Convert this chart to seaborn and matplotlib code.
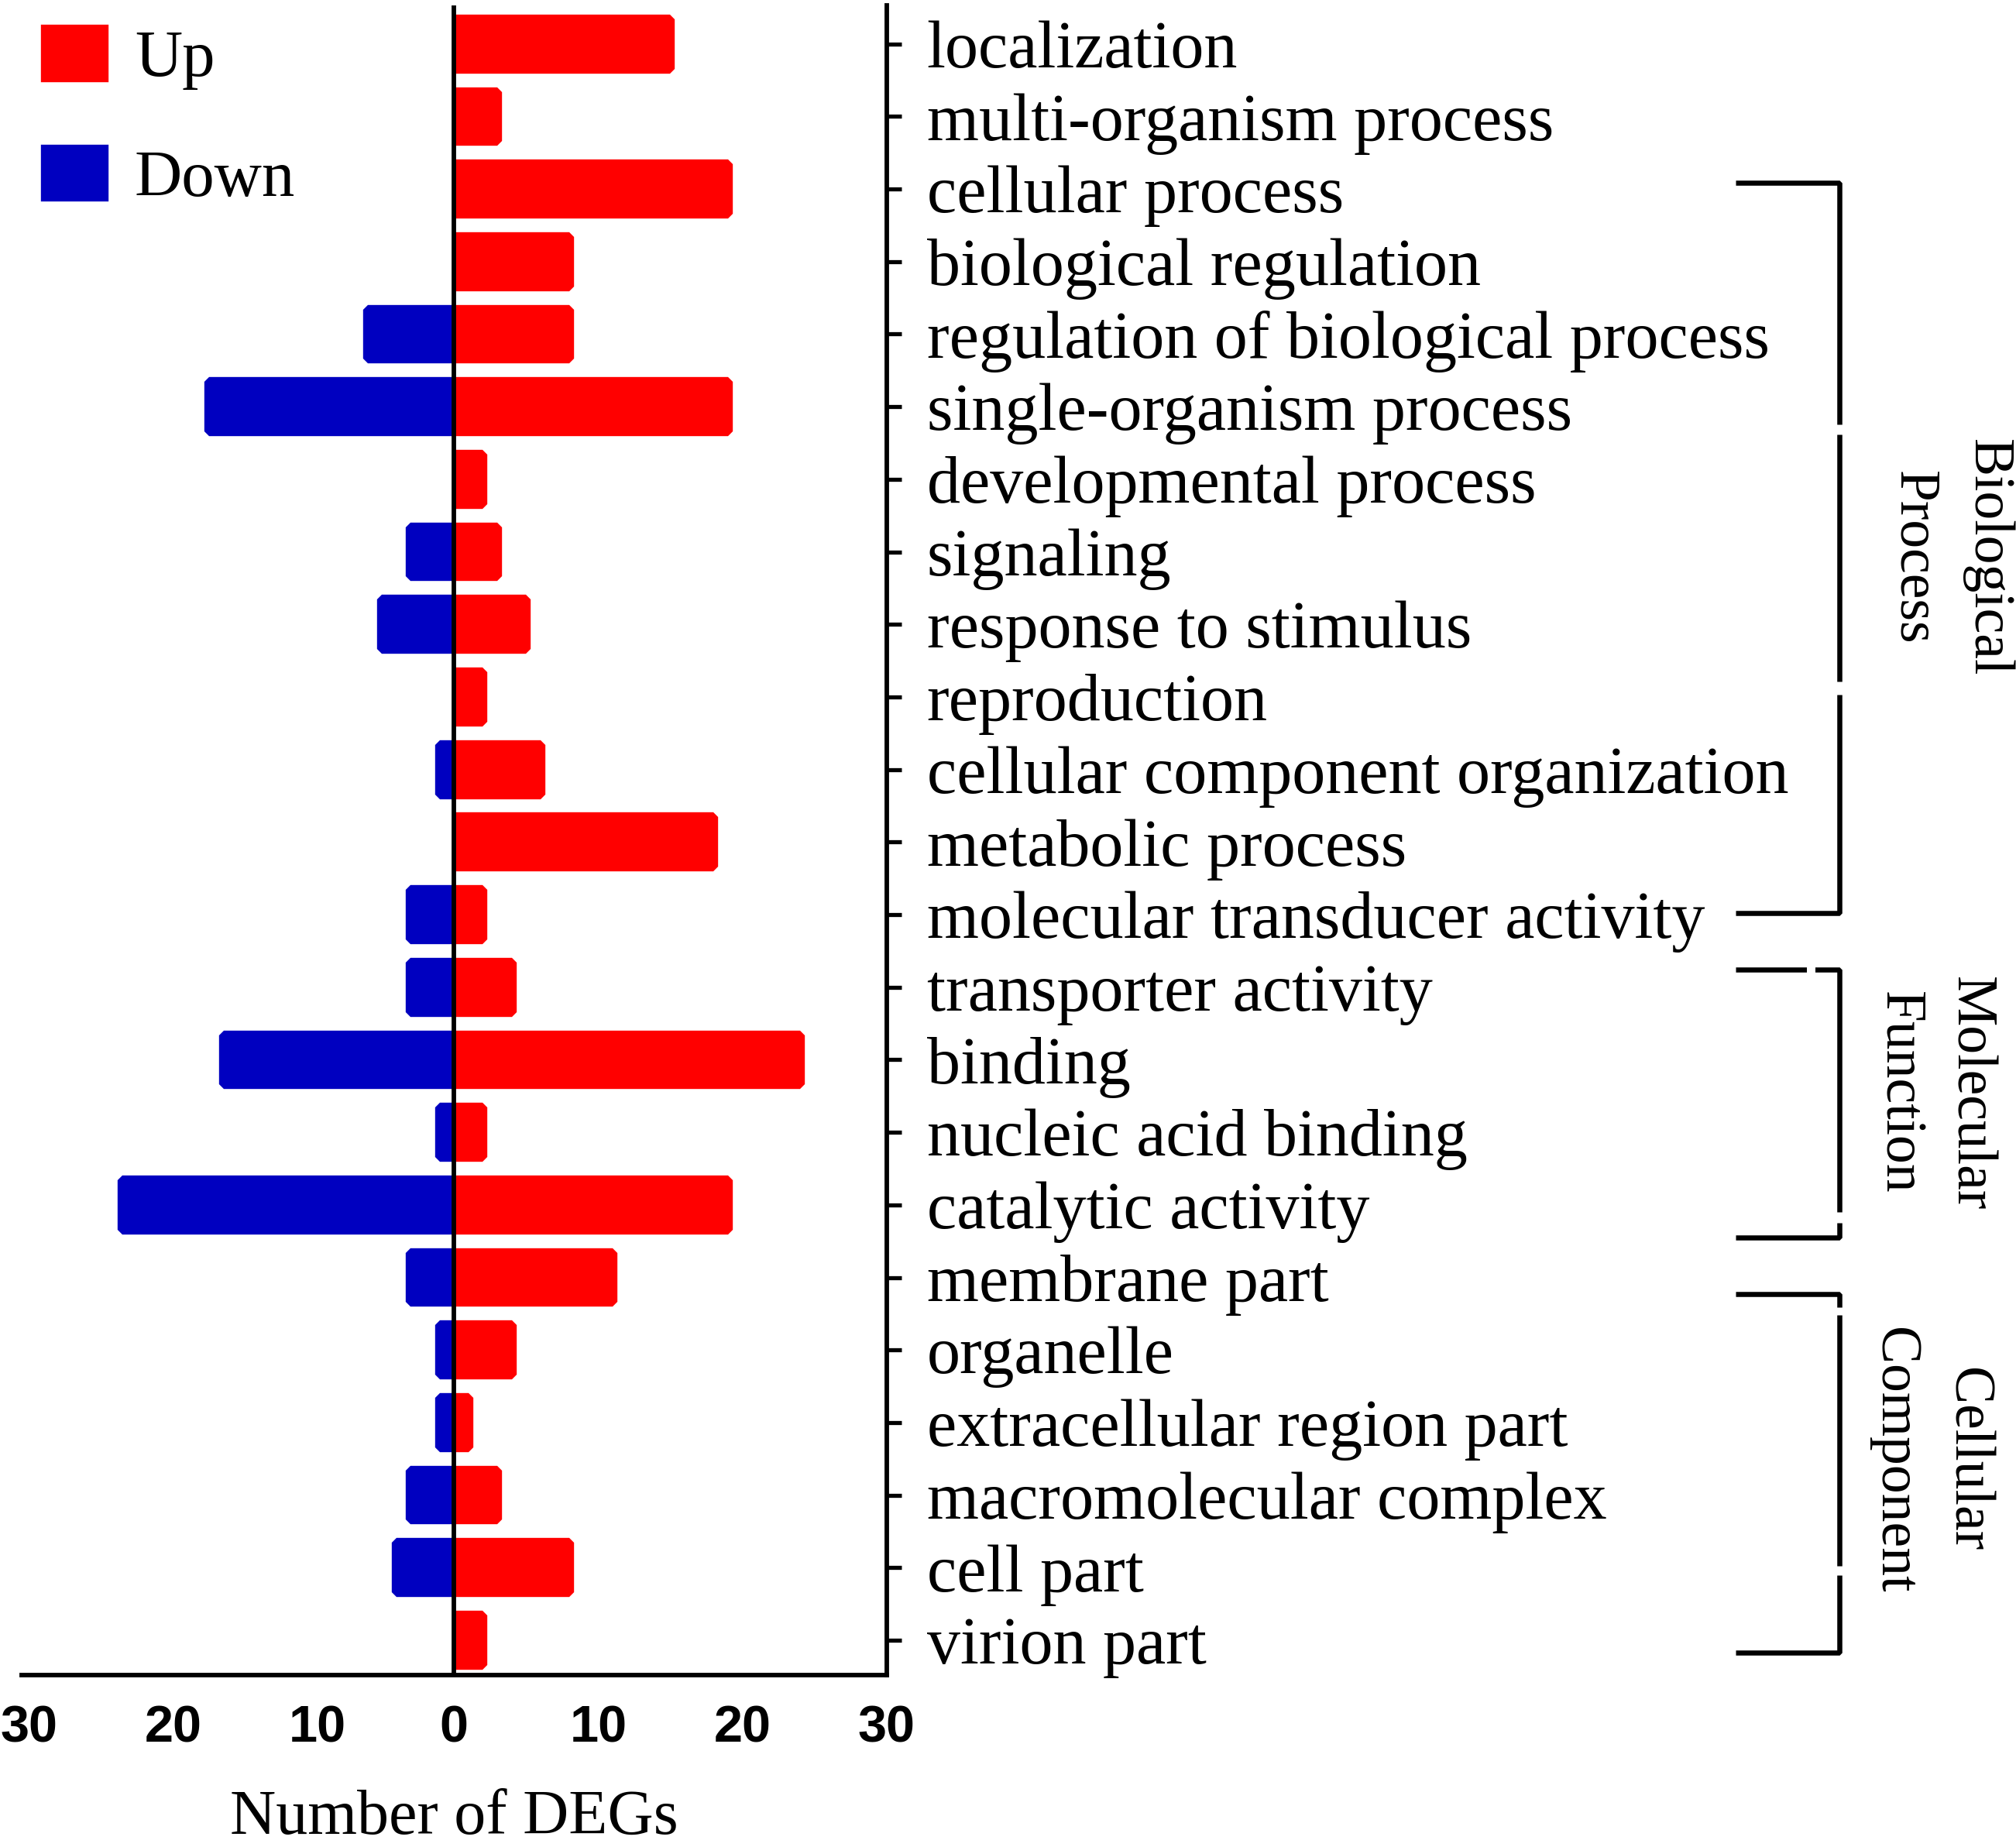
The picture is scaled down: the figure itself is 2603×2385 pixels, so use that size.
import pandas as pd
import matplotlib.pyplot as plt
import matplotlib.transforms as mtransforms
from matplotlib.patches import Patch, Rectangle
import seaborn as sns

# GO terms from top to bottom
terms = ['localization', 'multi-organism process', 'cellular process',
         'biological regulation', 'regulation of biological process',
         'single-organism process', 'developmental process', 'signaling',
         'response to stimulus', 'reproduction', 'cellular component organization',
         'metabolic process', 'molecular transducer activity', 'transporter activity',
         'binding', 'nucleic acid binding', 'catalytic activity', 'membrane part',
         'organelle', 'extracellular region part', 'macromolecular complex',
         'cell part', 'virion part']
up_counts = [15, 3, 19, 8, 8, 19, 2, 3, 5, 2, 6, 18, 2, 4, 24, 2, 19, 11, 4, 1, 3, 8, 2]
down_counts = [0, 0, 0, 0, 6, 17, 0, 3, 5, 0, 1, 0, 3, 3, 16, 1, 23, 3, 1, 1, 3, 4, 0]

x_ticks = [-30, -20, -10, 0, 10, 20, 30]
x_tick_labels = ['30', '20', '10', '0', '10', '20', '30']

group_names = [('Biological', 'Process'), ('Molecular', 'Function'), ('Cellular', 'Component')]

RED = '#FF0000'
BLUE = '#0000C0'
W, H = 2603, 2385

# long form table, down counts plotted to the left
df = pd.concat([
    pd.DataFrame({'term': terms, 'count': up_counts, 'direction': 'Up'}),
    pd.DataFrame({'term': terms, 'count': [-v for v in down_counts], 'direction': 'Down'}),
])
df = df[df['count'] != 0]

sns.set_theme(style='white')
plt.rcParams['font.family'] = ['Liberation Serif', 'DejaVu Serif']
plt.rcParams['text.color'] = 'black'
plt.rcParams['axes.labelcolor'] = 'black'
plt.rcParams['xtick.color'] = 'black'
plt.rcParams['ytick.color'] = 'black'

fig = plt.figure(figsize=(W / 100, H / 100), dpi=100)
ax = fig.add_axes([28 / W, 1 - 2163 / H, (1144.5 - 28) / W, (2163 - 7) / H])

sns.barplot(data=df, x='count', y='term', hue='direction', order=terms,
            hue_order=['Up', 'Down'], palette={'Up': RED, 'Down': BLUE},
            dodge=False, width=0.68, saturation=1, errorbar=None,
            legend=False, ax=ax)

# thick bevelled edge gives the chamfered corners; clip each bar at zero
for p in ax.patches:
    p.set_edgecolor(p.get_facecolor())
    p.set_linewidth(8.9)
    p.set_joinstyle('bevel')
    if p.get_width() >= 0:
        clip = Rectangle((0, -5), 40, 40, transform=ax.transData)
    else:
        clip = Rectangle((-40, -5), 40, 40, transform=ax.transData)
    p.set_clip_path(clip)

ax.axvline(0, color='black', lw=4.2, zorder=5)

ax.set_xlim(-30, 30)
ax.set_ylim(22.48, -0.53)
ax.set_xticks(x_ticks)
ax.set_xticklabels(x_tick_labels, fontfamily='Liberation Sans', fontweight='bold', fontsize=48)

ax.yaxis.tick_right()
ax.tick_params(axis='y', which='both', left=False, right=True, direction='out',
               length=13.7, width=3.8, pad=23.8, labelsize=62)
ax.tick_params(axis='x', direction='out', length=14.4, width=4.2, pad=13)

# the left-hand labels sit a little right of their ticks in the reference
shift = mtransforms.ScaledTranslation(10 / 100, 0, fig.dpi_scale_trans)
for tick_value, tick in zip(x_ticks, ax.xaxis.get_major_ticks()):
    if tick_value < 0:
        tick.label1.set_transform(tick.label1.get_transform() + shift)

for side in ['left', 'top']:
    ax.spines[side].set_visible(False)
for side in ['right', 'bottom']:
    ax.spines[side].set_visible(True)
    ax.spines[side].set_color('black')
    ax.spines[side].set_linewidth(4.2)

ax.set_ylabel('')
ax.set_xlabel('Number of DEGs', fontsize=59, labelpad=34)

# legend
handles = [Patch(facecolor=RED, edgecolor=RED, lw=8.9, joinstyle='bevel'),
           Patch(facecolor=BLUE, edgecolor=BLUE, lw=8.9, joinstyle='bevel')]
fig.legend(handles, ['Up', 'Down'], loc='upper left',
           bbox_to_anchor=(59 / W, 1 - 38 / H), bbox_transform=fig.transFigure,
           frameon=False, fontsize=61, borderpad=0, borderaxespad=0,
           handlelength=0.885, handleheight=0.744, handletextpad=0.47,
           labelspacing=0.9)

# brackets marking the GO categories: (top, bottom, gaps in the vertical line)
trans = mtransforms.blended_transform_factory(fig.transFigure, ax.transData)
brackets = [(1.91, 11.98, [(5.24, 5.38), (8.79, 8.97)]),
            (12.76, 16.45, [(16.10, 16.25)]),
            (17.23, 22.17, [(17.41, 17.52), (20.97, 21.10)])]
x_left, x_vert = 2241 / W, 2375 / W
line_kw = dict(color='black', lw=4.7, transform=trans, clip_on=False,
               solid_capstyle='butt', solid_joinstyle='bevel')
for i, (top, bottom, gaps) in enumerate(brackets):
    # vertical pieces between the gaps; first joins the top arm, last the bottom arm
    stops = [top] + [v for g in gaps for v in g] + [bottom]
    pieces = list(zip(stops[0::2], stops[1::2]))
    for j, (y0, y1) in enumerate(pieces):
        xs, ys = [x_vert, x_vert], [y0, y1]
        if j == 0:
            xs, ys = [x_left] + xs, [top] + ys
        if j == len(pieces) - 1:
            xs, ys = xs + [x_left], ys + [bottom]
        ax.plot(xs, ys, **line_kw)
    if i == 1:
        # small break in the top arm of the middle bracket
        ax.plot([2333 / W, 2344 / W], [top, top], color='white', lw=6,
                transform=trans, clip_on=False, solid_capstyle='butt', zorder=6)

# category labels, rotated, one text per line
label_pos = [((2548, 720), (2452, 720)),
             ((2525, 1412), (2433, 1411)),
             ((2521, 1885), (2427, 1886))]
for (first, second), ((x1, y1), (x2, y2)) in zip(group_names, label_pos):
    fig.text(x1 / W, 1 - y1 / H, first, rotation=-90, rotation_mode='anchor',
             ha='center', va='baseline', fontsize=53)
    fig.text(x2 / W, 1 - y2 / H, second, rotation=-90, rotation_mode='anchor',
             ha='center', va='baseline', fontsize=53)

fig.savefig('out.png', dpi=100, facecolor='white')
